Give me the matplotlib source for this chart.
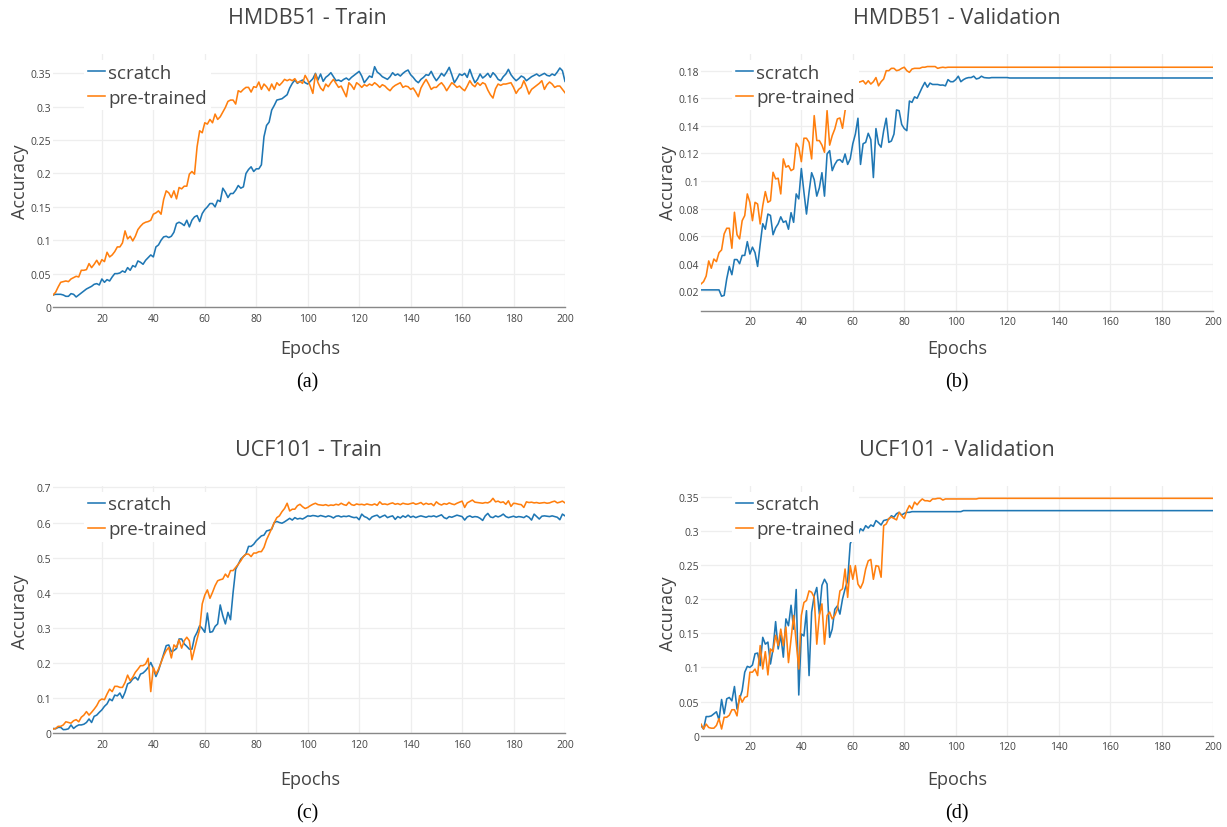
import matplotlib
matplotlib.use("Agg")
import matplotlib.pyplot as plt
from matplotlib.ticker import FuncFormatter, MultipleLocator

epochs = list(range(1, 201))

# ---------------- HMDB51 - Train ----------------
hmdb_train_scratch = [
    0.018, 0.019, 0.019, 0.019, 0.018, 0.016, 0.016, 0.020, 0.019, 0.015,
    0.018, 0.021, 0.024, 0.027, 0.029, 0.031, 0.034, 0.035, 0.033, 0.042,
    0.037, 0.041, 0.039, 0.045, 0.050, 0.050, 0.051, 0.054, 0.052, 0.059,
    0.055, 0.062, 0.060, 0.069, 0.067, 0.064, 0.070, 0.074, 0.078, 0.075,
    0.090, 0.093, 0.100, 0.105, 0.106, 0.104, 0.106, 0.112, 0.125, 0.127,
    0.125, 0.122, 0.130, 0.120, 0.130, 0.135, 0.137, 0.128, 0.140, 0.146,
    0.150, 0.155, 0.155, 0.150, 0.160, 0.158, 0.178, 0.172, 0.164, 0.170,
    0.170, 0.175, 0.182, 0.178, 0.180, 0.200, 0.206, 0.210, 0.203, 0.207,
    0.207, 0.213, 0.255, 0.272, 0.277, 0.295, 0.302, 0.310, 0.311, 0.312,
    0.315, 0.318, 0.328, 0.335, 0.340, 0.335, 0.338, 0.340, 0.336, 0.334,
    0.338, 0.342, 0.350, 0.340, 0.349, 0.338, 0.344, 0.347, 0.351, 0.345,
    0.339, 0.340, 0.338, 0.341, 0.343, 0.340, 0.344, 0.347, 0.350, 0.353,
    0.346, 0.336, 0.341, 0.346, 0.344, 0.360, 0.352, 0.349, 0.345, 0.343,
    0.341, 0.345, 0.351, 0.347, 0.349, 0.346, 0.350, 0.353, 0.355, 0.348,
    0.344, 0.339, 0.336, 0.341, 0.344, 0.348, 0.347, 0.353, 0.345, 0.339,
    0.344, 0.350, 0.346, 0.352, 0.359, 0.348, 0.336, 0.342, 0.349, 0.347,
    0.350, 0.344, 0.356, 0.345, 0.336, 0.341, 0.349, 0.343, 0.346, 0.350,
    0.344, 0.351, 0.347, 0.341, 0.339, 0.345, 0.349, 0.356, 0.348, 0.343,
    0.339, 0.342, 0.346, 0.344, 0.339, 0.342, 0.345, 0.347, 0.349, 0.346,
    0.348, 0.350, 0.347, 0.346, 0.349, 0.347, 0.352, 0.358, 0.354, 0.338,
]
hmdb_train_pretrained = [
    0.018, 0.022, 0.030, 0.037, 0.038, 0.039, 0.038, 0.042, 0.044, 0.046,
    0.045, 0.055, 0.055, 0.056, 0.065, 0.059, 0.064, 0.070, 0.063, 0.071,
    0.068, 0.082, 0.075, 0.078, 0.083, 0.090, 0.090, 0.096, 0.114, 0.102,
    0.106, 0.099, 0.106, 0.116, 0.121, 0.125, 0.127, 0.128, 0.130, 0.139,
    0.141, 0.144, 0.139, 0.161, 0.174, 0.171, 0.164, 0.174, 0.162, 0.179,
    0.177, 0.181, 0.181, 0.199, 0.203, 0.199, 0.240, 0.264, 0.261, 0.276,
    0.274, 0.281, 0.276, 0.289, 0.281, 0.285, 0.292, 0.299, 0.308, 0.310,
    0.310, 0.304, 0.324, 0.322, 0.326, 0.329, 0.329, 0.322, 0.330, 0.329,
    0.337, 0.326, 0.334, 0.330, 0.324, 0.334, 0.326, 0.336, 0.332, 0.336,
    0.341, 0.339, 0.341, 0.339, 0.342, 0.336, 0.338, 0.335, 0.347, 0.340,
    0.331, 0.320, 0.349, 0.336, 0.328, 0.324, 0.334, 0.330, 0.336, 0.341,
    0.335, 0.329, 0.331, 0.323, 0.315, 0.336, 0.332, 0.326, 0.336, 0.333,
    0.329, 0.333, 0.331, 0.334, 0.332, 0.336, 0.333, 0.329, 0.333, 0.331,
    0.327, 0.324, 0.329, 0.332, 0.334, 0.336, 0.329, 0.331, 0.330, 0.326,
    0.328, 0.322, 0.315, 0.328, 0.335, 0.341, 0.334, 0.326, 0.329, 0.329,
    0.333, 0.336, 0.331, 0.324, 0.330, 0.336, 0.333, 0.329, 0.331, 0.327,
    0.324, 0.331, 0.339, 0.333, 0.330, 0.336, 0.332, 0.336, 0.334, 0.325,
    0.318, 0.313, 0.327, 0.334, 0.332, 0.334, 0.334, 0.335, 0.336, 0.329,
    0.320, 0.326, 0.329, 0.339, 0.330, 0.319, 0.326, 0.329, 0.332, 0.335,
    0.339, 0.326, 0.333, 0.337, 0.334, 0.329, 0.331, 0.331, 0.326, 0.321,
]

# ---------------- HMDB51 - Validation ----------------
hmdb_val_scratch = [
    0.021, 0.021, 0.021, 0.021, 0.021, 0.021, 0.021, 0.021, 0.0164, 0.017,
    0.029, 0.038, 0.032, 0.043, 0.043, 0.040, 0.046, 0.046, 0.056, 0.047,
    0.052, 0.048, 0.038, 0.054, 0.069, 0.065, 0.076, 0.075, 0.061, 0.066,
    0.069, 0.074, 0.070, 0.071, 0.065, 0.077, 0.070, 0.0906, 0.087, 0.109,
    0.092, 0.076, 0.092, 0.106, 0.101, 0.089, 0.095, 0.106, 0.089, 0.1196,
    0.122, 0.1075, 0.112, 0.115, 0.1155, 0.1135, 0.1196, 0.112, 0.116, 0.127,
    0.134, 0.1455, 0.112, 0.127, 0.128, 0.1346, 0.130, 0.1025, 0.138, 0.127,
    0.1245, 0.1365, 0.1455, 0.128, 0.129, 0.134, 0.1515, 0.151, 0.141, 0.138,
    0.1365, 0.158, 0.157, 0.161, 0.160, 0.164, 0.168, 0.1715, 0.168, 0.171,
    0.170, 0.170, 0.170, 0.1695, 0.1696, 0.169, 0.1735, 0.172, 0.172, 0.1735,
    0.176, 0.172, 0.1735, 0.1745, 0.175, 0.175, 0.176, 0.174, 0.1745, 0.176,
    0.175, 0.1748, 0.1747, 0.175, 0.175, 0.175, 0.175, 0.175, 0.175, 0.175,
    0.1747, 0.1747, 0.1747, 0.1747, 0.1747, 0.1747, 0.1747, 0.1747, 0.1747, 0.1747,
    0.1747, 0.1747, 0.1747, 0.1747, 0.1747, 0.1747, 0.1747, 0.1747, 0.1747, 0.1747,
    0.1747, 0.1747, 0.1747, 0.1747, 0.1747, 0.1747, 0.1747, 0.1747, 0.1747, 0.1747,
    0.1747, 0.1747, 0.1747, 0.1747, 0.1747, 0.1747, 0.1747, 0.1747, 0.1747, 0.1747,
    0.1747, 0.1747, 0.1747, 0.1747, 0.1747, 0.1747, 0.1747, 0.1747, 0.1747, 0.1747,
    0.1747, 0.1747, 0.1747, 0.1747, 0.1747, 0.1747, 0.1747, 0.1747, 0.1747, 0.1747,
    0.1747, 0.1747, 0.1747, 0.1747, 0.1747, 0.1747, 0.1747, 0.1747, 0.1747, 0.1747,
    0.1747, 0.1747, 0.1747, 0.1747, 0.1747, 0.1747, 0.1747, 0.1747, 0.1747, 0.1747,
]
hmdb_val_pretrained = [
    0.0253, 0.027, 0.031, 0.042, 0.0367, 0.0434, 0.0415, 0.048, 0.050, 0.0616,
    0.0657, 0.0657, 0.0512, 0.0773, 0.061, 0.058, 0.0712, 0.0749, 0.0906, 0.0845,
    0.0712, 0.0845, 0.0833, 0.0688, 0.082, 0.0923, 0.0845, 0.0857, 0.1063, 0.1015,
    0.102, 0.0906, 0.116, 0.110, 0.1111, 0.1075, 0.1087, 0.1273, 0.1244, 0.114,
    0.131, 0.131, 0.128, 0.116, 0.1474, 0.1293, 0.1293, 0.126, 0.1208, 0.151,
    0.126, 0.1329, 0.1377, 0.145, 0.1457, 0.1382, 0.151, 0.158, 0.162, 0.165,
    0.167, 0.1715, 0.172, 0.1727, 0.1703, 0.1727, 0.1703, 0.172, 0.175, 0.169,
    0.172, 0.174, 0.180, 0.180, 0.1817, 0.1817, 0.180, 0.1805, 0.1817, 0.1825,
    0.180, 0.1788, 0.1812, 0.1817, 0.1817, 0.1817, 0.1825, 0.1825, 0.183, 0.183,
    0.183, 0.183, 0.1817, 0.1822, 0.1825, 0.1822, 0.1825, 0.1825, 0.1825, 0.1825,
    0.1825, 0.1825, 0.1825, 0.1825, 0.1825, 0.1825, 0.1825, 0.1825, 0.1825, 0.1825,
    0.1825, 0.1825, 0.1825, 0.1825, 0.1825, 0.1825, 0.1825, 0.1825, 0.1825, 0.1825,
    0.1825, 0.1825, 0.1825, 0.1825, 0.1825, 0.1825, 0.1825, 0.1825, 0.1825, 0.1825,
    0.1825, 0.1825, 0.1825, 0.1825, 0.1825, 0.1825, 0.1825, 0.1825, 0.1825, 0.1825,
    0.1825, 0.1825, 0.1825, 0.1825, 0.1825, 0.1825, 0.1825, 0.1825, 0.1825, 0.1825,
    0.1825, 0.1825, 0.1825, 0.1825, 0.1825, 0.1825, 0.1825, 0.1825, 0.1825, 0.1825,
    0.1825, 0.1825, 0.1825, 0.1825, 0.1825, 0.1825, 0.1825, 0.1825, 0.1825, 0.1825,
    0.1825, 0.1825, 0.1825, 0.1825, 0.1825, 0.1825, 0.1825, 0.1825, 0.1825, 0.1825,
    0.1825, 0.1825, 0.1825, 0.1825, 0.1825, 0.1825, 0.1825, 0.1825, 0.1825, 0.1825,
    0.1825, 0.1825, 0.1825, 0.1825, 0.1825, 0.1825, 0.1825, 0.1825, 0.1825, 0.1825,
]

# ---------------- UCF101 - Train ----------------
ucf_train_scratch = [
    0.013, 0.012, 0.016, 0.016, 0.0095, 0.010, 0.012, 0.023, 0.013, 0.019,
    0.023, 0.023, 0.025, 0.030, 0.040, 0.030, 0.0475, 0.051, 0.059, 0.066,
    0.076, 0.083, 0.097, 0.092, 0.108, 0.106, 0.114, 0.099, 0.116, 0.140,
    0.144, 0.154, 0.159, 0.151, 0.168, 0.171, 0.178, 0.187, 0.201, 0.184,
    0.161, 0.178, 0.201, 0.225, 0.249, 0.251, 0.232, 0.235, 0.241, 0.268,
    0.268, 0.254, 0.247, 0.239, 0.239, 0.273, 0.287, 0.306, 0.298, 0.287,
    0.342, 0.287, 0.289, 0.304, 0.311, 0.365, 0.334, 0.311, 0.344, 0.323,
    0.401, 0.467, 0.481, 0.496, 0.503, 0.510, 0.532, 0.532, 0.538, 0.548,
    0.555, 0.562, 0.564, 0.576, 0.578, 0.581, 0.600, 0.603, 0.600, 0.598,
    0.602, 0.607, 0.612, 0.607, 0.614, 0.610, 0.612, 0.610, 0.614, 0.619,
    0.618, 0.620, 0.619, 0.617, 0.620, 0.618, 0.616, 0.619, 0.617, 0.613,
    0.618, 0.619, 0.616, 0.618, 0.617, 0.619, 0.616, 0.614, 0.615, 0.608,
    0.624, 0.617, 0.614, 0.608, 0.616, 0.619, 0.621, 0.614, 0.618, 0.621,
    0.614, 0.617, 0.619, 0.609, 0.617, 0.613, 0.619, 0.615, 0.621, 0.615,
    0.618, 0.614, 0.617, 0.619, 0.617, 0.615, 0.618, 0.617, 0.619, 0.616,
    0.619, 0.622, 0.614, 0.611, 0.617, 0.615, 0.618, 0.621, 0.619, 0.617,
    0.607, 0.616, 0.619, 0.615, 0.617, 0.616, 0.612, 0.606, 0.619, 0.626,
    0.616, 0.614, 0.619, 0.616, 0.619, 0.624, 0.617, 0.614, 0.616, 0.618,
    0.615, 0.617, 0.616, 0.614, 0.619, 0.615, 0.607, 0.624, 0.617, 0.610,
    0.618, 0.619, 0.618, 0.617, 0.619, 0.617, 0.615, 0.608, 0.624, 0.619,
]
ucf_train_pretrained = [
    0.011, 0.013, 0.019, 0.019, 0.023, 0.032, 0.030, 0.028, 0.035, 0.038,
    0.032, 0.045, 0.051, 0.061, 0.051, 0.059, 0.068, 0.078, 0.092, 0.097,
    0.095, 0.111, 0.125, 0.118, 0.133, 0.133, 0.130, 0.130, 0.144, 0.165,
    0.149, 0.159, 0.173, 0.182, 0.192, 0.192, 0.197, 0.213, 0.118, 0.187,
    0.168, 0.182, 0.201, 0.220, 0.235, 0.244, 0.214, 0.251, 0.244, 0.266,
    0.242, 0.263, 0.273, 0.263, 0.209, 0.239, 0.268, 0.296, 0.368, 0.393,
    0.408, 0.384, 0.401, 0.420, 0.434, 0.437, 0.439, 0.453, 0.444, 0.463,
    0.463, 0.472, 0.481, 0.491, 0.503, 0.510, 0.510, 0.503, 0.513, 0.513,
    0.517, 0.517, 0.529, 0.551, 0.567, 0.583, 0.600, 0.614, 0.619, 0.631,
    0.640, 0.655, 0.633, 0.638, 0.638, 0.648, 0.652, 0.645, 0.640, 0.643,
    0.648, 0.652, 0.655, 0.651, 0.650, 0.649, 0.651, 0.648, 0.650, 0.649,
    0.652, 0.650, 0.655, 0.651, 0.649, 0.658, 0.651, 0.649, 0.653, 0.651,
    0.652, 0.650, 0.653, 0.651, 0.650, 0.653, 0.649, 0.659, 0.652, 0.653,
    0.651, 0.654, 0.656, 0.652, 0.654, 0.651, 0.655, 0.653, 0.652, 0.654,
    0.656, 0.652, 0.654, 0.657, 0.651, 0.655, 0.652, 0.654, 0.648, 0.659,
    0.653, 0.650, 0.654, 0.652, 0.656, 0.653, 0.651, 0.655, 0.658, 0.661,
    0.643, 0.656, 0.660, 0.664, 0.658, 0.657, 0.656, 0.655, 0.657, 0.656,
    0.660, 0.669, 0.659, 0.661, 0.657, 0.659, 0.652, 0.662, 0.646, 0.655,
    0.654, 0.652, 0.651, 0.643, 0.659, 0.657, 0.658, 0.656, 0.657, 0.655,
    0.656, 0.657, 0.655, 0.656, 0.659, 0.661, 0.656, 0.658, 0.661, 0.656,
]

# ---------------- UCF101 - Validation ----------------
ucf_val_scratch = [
    0.0146, 0.0098, 0.028, 0.028, 0.029, 0.032, 0.035, 0.023, 0.053, 0.032,
    0.054, 0.056, 0.051, 0.072, 0.039, 0.054, 0.066, 0.093, 0.1015, 0.100,
    0.1035, 0.120, 0.121, 0.1025, 0.144, 0.134, 0.137, 0.105, 0.127, 0.167,
    0.127, 0.147, 0.115, 0.171, 0.161, 0.191, 0.156, 0.214, 0.0596, 0.149,
    0.146, 0.183, 0.088, 0.181, 0.205, 0.217, 0.178, 0.220, 0.229, 0.222,
    0.144, 0.156, 0.185, 0.190, 0.178, 0.200, 0.215, 0.227, 0.281, 0.290,
    0.297, 0.294, 0.303, 0.300, 0.3075, 0.304, 0.3085, 0.3065, 0.315, 0.312,
    0.3085, 0.315, 0.316, 0.317, 0.322, 0.320, 0.325, 0.327, 0.323, 0.3255,
    0.327, 0.327, 0.328, 0.328, 0.328, 0.328, 0.328, 0.328, 0.328, 0.328,
    0.328, 0.328, 0.328, 0.328, 0.328, 0.328, 0.328, 0.328, 0.328, 0.328,
    0.328, 0.328, 0.3295, 0.3295, 0.3295, 0.3295, 0.3295, 0.3295, 0.3295, 0.3295,
    0.3295, 0.3295, 0.3295, 0.3295, 0.3295, 0.3295, 0.3295, 0.3295, 0.3295, 0.3295,
    0.3295, 0.3295, 0.3295, 0.3295, 0.3295, 0.3295, 0.3295, 0.3295, 0.3295, 0.3295,
    0.3295, 0.3295, 0.3295, 0.3295, 0.3295, 0.3295, 0.3295, 0.3295, 0.3295, 0.3295,
    0.3295, 0.3295, 0.3295, 0.3295, 0.3295, 0.3295, 0.3295, 0.3295, 0.3295, 0.3295,
    0.3295, 0.3295, 0.3295, 0.3295, 0.3295, 0.3295, 0.3295, 0.3295, 0.3295, 0.3295,
    0.3295, 0.3295, 0.3295, 0.3295, 0.3295, 0.3295, 0.3295, 0.3295, 0.3295, 0.3295,
    0.3295, 0.3295, 0.3295, 0.3295, 0.3295, 0.3295, 0.3295, 0.3295, 0.3295, 0.3295,
    0.3295, 0.3295, 0.3295, 0.3295, 0.3295, 0.3295, 0.3295, 0.3295, 0.3295, 0.3295,
    0.3295, 0.3295, 0.3295, 0.3295, 0.3295, 0.3295, 0.3295, 0.3295, 0.3295, 0.3295,
]
ucf_val_pretrained = [
    0.017, 0.0098, 0.017, 0.012, 0.011, 0.011, 0.015, 0.025, 0.0098, 0.027,
    0.027, 0.030, 0.038, 0.038, 0.029, 0.0586, 0.049, 0.056, 0.0576, 0.093,
    0.093, 0.0976, 0.088, 0.132, 0.0976, 0.123, 0.089, 0.127, 0.123, 0.147,
    0.132, 0.156, 0.132, 0.159, 0.107, 0.1415, 0.176, 0.137, 0.0976, 0.176,
    0.195, 0.198, 0.212, 0.210, 0.2025, 0.134, 0.176, 0.193, 0.134, 0.176,
    0.181, 0.171, 0.176, 0.1855, 0.212, 0.215, 0.244, 0.2025, 0.249, 0.229,
    0.249, 0.222, 0.216, 0.2245, 0.244, 0.256, 0.258, 0.229, 0.249, 0.248,
    0.232, 0.3075, 0.310, 0.318, 0.320, 0.318, 0.316, 0.327, 0.322, 0.318,
    0.3295, 0.337, 0.332, 0.342, 0.338, 0.343, 0.3466, 0.344, 0.344, 0.343,
    0.3466, 0.3466, 0.3475, 0.3475, 0.345, 0.3466, 0.3466, 0.3466, 0.3466, 0.3466,
    0.3466, 0.3466, 0.3466, 0.3466, 0.3466, 0.3466, 0.3466, 0.3466, 0.3475, 0.3475,
    0.3475, 0.3475, 0.3475, 0.3475, 0.3475, 0.3475, 0.3475, 0.3475, 0.3475, 0.3475,
    0.3475, 0.3475, 0.3475, 0.3475, 0.3475, 0.3475, 0.3475, 0.3475, 0.3475, 0.3475,
    0.3475, 0.3475, 0.3475, 0.3475, 0.3475, 0.3475, 0.3475, 0.3475, 0.3475, 0.3475,
    0.3475, 0.3475, 0.3475, 0.3475, 0.3475, 0.3475, 0.3475, 0.3475, 0.3475, 0.3475,
    0.3475, 0.3475, 0.3475, 0.3475, 0.3475, 0.3475, 0.3475, 0.3475, 0.3475, 0.3475,
    0.3475, 0.3475, 0.3475, 0.3475, 0.3475, 0.3475, 0.3475, 0.3475, 0.3475, 0.3475,
    0.3475, 0.3475, 0.3475, 0.3475, 0.3475, 0.3475, 0.3475, 0.3475, 0.3475, 0.3475,
    0.3475, 0.3475, 0.3475, 0.3475, 0.3475, 0.3475, 0.3475, 0.3475, 0.3475, 0.3475,
    0.3475, 0.3475, 0.3475, 0.3475, 0.3475, 0.3475, 0.3475, 0.3475, 0.3475, 0.3475,
]

titles = ["HMDB51 - Train", "HMDB51 - Validation", "UCF101 - Train", "UCF101 - Validation"]
captions = ["(a)", "(b)", "(c)", "(d)"]
series_labels = ["scratch", "pre-trained"]
x_ticks = [20, 40, 60, 80, 100, 120, 140, 160, 180, 200]

BLUE = "#1f77b4"
ORANGE = "#ff7f0e"
TXT = "#444444"
FONT = "Open Sans"

W, H = 1227, 828
fig = plt.figure(figsize=(W / 100, H / 100), dpi=100)
fig.patch.set_facecolor("white")

# panel geometry in pixels: (left, top, right, bottom), y-limits, y-tick step
panels = [
    dict(box=(53, 55, 565, 308), ylim=(0.0, 0.379), step=0.05,
         data=(hmdb_train_scratch, hmdb_train_pretrained),
         title_xy=(307, 17), ylab_xy=(20, 182), xlab_xy=(310, 348), cap_xy=(307, 381)),
    dict(box=(701, 55, 1213, 311.7), ylim=(0.0059, 0.1921), step=0.02,
         data=(hmdb_val_scratch, hmdb_val_pretrained),
         title_xy=(957, 17), ylab_xy=(668, 183), xlab_xy=(957, 348), cap_xy=(957, 381)),
    dict(box=(53, 486.7, 565, 734), ylim=(0.0, 0.705), step=0.1,
         data=(ucf_train_scratch, ucf_train_pretrained),
         title_xy=(308, 449), ylab_xy=(20, 612), xlab_xy=(310, 779), cap_xy=(307, 812)),
    dict(box=(701, 486.7, 1213, 736.7), ylim=(0.0, 0.366), step=0.05,
         data=(ucf_val_scratch, ucf_val_pretrained),
         title_xy=(957, 449), ylab_xy=(668, 614), xlab_xy=(957, 779), cap_xy=(957, 812)),
]

fmt = FuncFormatter(lambda v, _: "%g" % round(v, 4))

for i, p in enumerate(panels):
    l, t, r, b = p["box"]
    ax = fig.add_axes([l / W, 1 - b / H, (r - l) / W, (b - t) / H])
    s, pt = p["data"]
    ax.plot(epochs, s, color=BLUE, lw=1.15, label=series_labels[0], zorder=3)
    ax.plot(epochs, pt, color=ORANGE, lw=1.15, label=series_labels[1], zorder=3)
    ax.set_xlim(1, 200)
    ax.set_ylim(*p["ylim"])
    ax.set_xticks(x_ticks)
    ax.yaxis.set_major_locator(MultipleLocator(p["step"]))
    ax.yaxis.set_major_formatter(fmt)
    ax.set_axisbelow(True)
    ax.grid(True, color="#eeeeee", lw=0.9)
    for side in ("top", "right", "left"):
        ax.spines[side].set_visible(False)
    ax.spines["bottom"].set_color("#888888")
    ax.spines["bottom"].set_linewidth(1.0)
    ax.tick_params(axis="both", length=0, labelsize=7.5, labelcolor=TXT)
    ax.tick_params(axis="x", pad=4)
    ax.tick_params(axis="y", pad=1.5)
    for lab in ax.get_xticklabels() + ax.get_yticklabels():
        lab.set_fontfamily(FONT)

    leg = ax.legend(loc="upper left", bbox_to_anchor=(31 / (r - l), 1.0 - 6 / (b - t)),
                    borderaxespad=0, frameon=True, fancybox=False, framealpha=1,
                    facecolor="white", edgecolor="none",
                    prop={"family": FONT, "size": 13.5},
                    handlelength=0.92, handletextpad=0.18, borderpad=0.2,
                    labelspacing=0.36)
    for txt in leg.get_texts():
        txt.set_color(TXT)
    leg.set_zorder(10)

    fig.text(p["title_xy"][0] / W, 1 - (p["title_xy"][1] + 2) / H, titles[i],
             ha="center", va="center", fontsize=15.5, color=TXT, family=FONT)
    fig.text(p["ylab_xy"][0] / W, 1 - p["ylab_xy"][1] / H, "Accuracy",
             ha="center", va="center", rotation=90, fontsize=13, color=TXT, family=FONT)
    fig.text(p["xlab_xy"][0] / W, 1 - (p["xlab_xy"][1] + 1) / H, "Epochs",
             ha="center", va="center", fontsize=13, color=TXT, family=FONT)
    fig.text(p["cap_xy"][0] / W, 1 - (p["cap_xy"][1] + 2) / H, captions[i],
             ha="center", va="center", fontsize=14.5, color="black", family="Liberation Serif")

fig.savefig("out.png", dpi=100, facecolor="white")
